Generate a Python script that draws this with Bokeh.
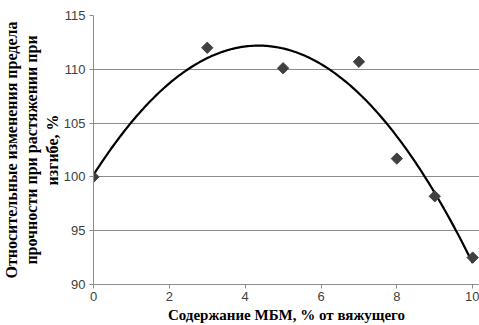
import numpy as np
from bokeh.plotting import figure
from bokeh.models import Range1d, FixedTicker
from bokeh.embed import file_html
from bokeh.resources import INLINE

# data
x_vals = [0, 3, 5, 7, 8, 9, 10]
y_vals = [100.0, 112.0, 110.1, 110.7, 101.7, 98.2, 92.5]
x_ticks = [0, 2, 4, 6, 8, 10]
y_ticks = [90, 95, 100, 105, 110, 115]
x_title = "Содержание МБМ, % от вяжущего"
y_title = "Относительные изменения предела\nпрочности при растяжении при\nизгибе, %"

# polynomial (2nd order) trend line fitted to the data
coef = np.polyfit(x_vals, y_vals, 2)
xs = np.linspace(0, 10, 200)
ys = np.polyval(coef, xs)

p = figure(width=479, height=325, output_backend="svg", toolbar_location=None,
           x_range=Range1d(0, 10.18), y_range=Range1d(90, 115),
           min_border_left=0, min_border_right=0, min_border_top=15, min_border_bottom=0)
p.outline_line_color = None
p.background_fill_color = "white"

p.line(xs, ys, line_color="black", line_width=2.2)
p.scatter(x_vals, y_vals, marker="square", angle=np.pi / 4, size=8,
          fill_color="#404040", line_color="#404040")

p.xaxis.ticker = FixedTicker(ticks=x_ticks)
p.yaxis.ticker = FixedTicker(ticks=y_ticks)
p.xgrid.grid_line_color = None
p.ygrid.grid_line_color = "#8c8c8c"
p.ygrid.grid_line_width = 1

for ax in (p.xaxis, p.yaxis):
    ax.axis_line_color = "#8c8c8c"
    ax.major_tick_line_color = "#8c8c8c"
    ax.major_tick_in = 0
    ax.major_tick_out = 4
    ax.minor_tick_line_color = None
    ax.major_label_text_font = "Liberation Sans"
    ax.major_label_text_font_size = "13px"
    ax.major_label_text_color = "#404040"
    ax.axis_label_text_font = "serif"
    ax.axis_label_text_font_style = "bold"
    ax.axis_label_text_color = "black"

p.xaxis.axis_label_text_font_size = "15px"
p.yaxis.axis_label_text_font_size = "16px"
p.yaxis.axis_label_text_line_height = 1.2
p.xaxis.axis_label = x_title
p.yaxis.axis_label = y_title
p.xaxis.axis_label_standoff = 3
p.yaxis.axis_label_standoff = 0
p.xaxis.major_label_standoff = 3
p.yaxis.major_label_standoff = 4

open("out.html", "w").write(file_html(p, INLINE))
